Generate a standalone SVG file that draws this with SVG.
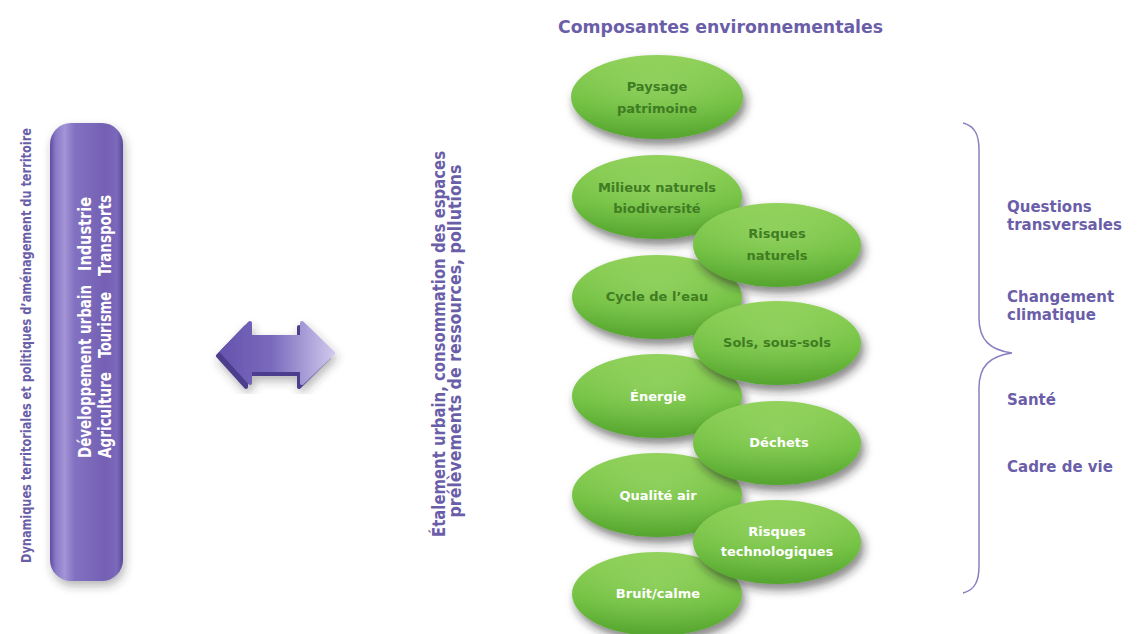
<svg xmlns="http://www.w3.org/2000/svg" width="1141" height="634" viewBox="0 0 1141 634">
<defs>
<linearGradient id="gGreen" x1="0" y1="0" x2="0" y2="1">
<stop offset="0" stop-color="#8ccf55"/>
<stop offset="0.55" stop-color="#70c041"/>
<stop offset="1" stop-color="#56a52f"/>
</linearGradient>
<radialGradient id="gHi" cx="0.5" cy="0.35" r="0.6">
<stop offset="0" stop-color="#a6dc74" stop-opacity="0.5"/>
<stop offset="1" stop-color="#a6dc74" stop-opacity="0"/>
</radialGradient>
<linearGradient id="gPill" x1="0" y1="0" x2="1" y2="0">
<stop offset="0" stop-color="#5f4ca2"/>
<stop offset="0.08" stop-color="#8a7bc8"/>
<stop offset="0.2" stop-color="#a294d6"/>
<stop offset="0.34" stop-color="#8271c0"/>
<stop offset="0.75" stop-color="#7460b4"/>
<stop offset="0.92" stop-color="#7b68ba"/>
<stop offset="1" stop-color="#5a479c"/>
</linearGradient>
<linearGradient id="gArrow" x1="0" y1="0" x2="1" y2="0">
<stop offset="0" stop-color="#6654ae"/>
<stop offset="0.45" stop-color="#7a6abd"/>
<stop offset="1" stop-color="#cfc7ec"/>
</linearGradient>
<filter id="shadow" x="-30%" y="-30%" width="160%" height="170%">
<feDropShadow dx="3" dy="6" stdDeviation="5" flood-color="#222" flood-opacity="0.55"/>
</filter>
<filter id="shadowSoft" x="-30%" y="-10%" width="160%" height="120%">
<feDropShadow dx="2" dy="5" stdDeviation="5" flood-color="#333" flood-opacity="0.35"/>
</filter>
<style>
.ell{fill:url(#gGreen);filter:url(#shadow)}
.hi{fill:url(#gHi)}
.lbl{font-family:"DejaVu Sans",sans-serif;font-weight:bold;font-size:13px;text-anchor:middle}
.dk{fill:#3f7c22}
.wh{fill:#ffffff}
.pur{fill:#6b5ea9}
.rt{font-family:"DejaVu Sans",sans-serif;font-weight:bold;font-size:15px;fill:#6b5ea9}
.cond{font-family:"Liberation Sans Narrow","DejaVu Sans Condensed","Liberation Sans",sans-serif;font-stretch:condensed}
</style>
</defs>
<rect width="1141" height="634" fill="#ffffff"/>

<g id="title">
<text x="558" y="33" font-family="DejaVu Sans,sans-serif" font-weight="bold" font-size="18" class="pur" textLength="325" lengthAdjust="spacingAndGlyphs">Composantes environnementales</text>
</g>

<g id="left-label">
<text class="cond pur" font-weight="bold" font-size="13.5" transform="translate(31,563) rotate(-90)" textLength="435" lengthAdjust="spacingAndGlyphs">Dynamiques territoriales et politiques d’aménagement du territoire</text>
</g>

<g id="pill">
<rect x="50" y="123" width="73" height="458" rx="21" ry="21" fill="url(#gPill)" filter="url(#shadowSoft)"/>
<g class="cond" font-weight="bold" font-size="17.5" fill="#ffffff">
<text transform="translate(91,458) rotate(-90)" textLength="173" lengthAdjust="spacingAndGlyphs">Développement urbain</text>
<text transform="translate(91,271) rotate(-90)" textLength="74" lengthAdjust="spacingAndGlyphs">Industrie</text>
<text transform="translate(111,458) rotate(-90)" textLength="86" lengthAdjust="spacingAndGlyphs">Agriculture</text>
<text transform="translate(111,358) rotate(-90)" textLength="66" lengthAdjust="spacingAndGlyphs">Tourisme</text>
<text transform="translate(111,276) rotate(-90)" textLength="81" lengthAdjust="spacingAndGlyphs">Transports</text>
</g>
</g>

<g id="middle-label" class="cond pur" font-weight="bold" font-size="18" text-anchor="middle">
<text transform="translate(445,344) rotate(-90)" textLength="386" lengthAdjust="spacingAndGlyphs">Étalement urbain, consommation des espaces</text>
<text transform="translate(461,341) rotate(-90)" textLength="353" lengthAdjust="spacingAndGlyphs">prélèvements de ressources, pollutions</text>
</g>

<g id="connectors">
<g id="double-arrow" filter="url(#shadowSoft)">
<polygon points="218,356 246,327 246,341 299,341 299,327 329,357 299,387 299,374 246,374 246,387" fill="#4d3d8d" stroke="#4d3d8d" stroke-width="4" stroke-linejoin="round"/>
<polygon points="222,352 250,323 250,337 302,337 302,323 333,353 302,383 302,370 250,370 250,383" fill="url(#gArrow)" stroke="url(#gArrow)" stroke-width="4" stroke-linejoin="round"/>
</g>
<path id="brace" d="M963,123 C975,126 979,135 979,150 L979,318 C979,340 990,350 1012,353 C990,356 979,366 979,388 L979,566 C979,581 975,590 963,593" fill="none" stroke="#8a80c0" stroke-width="1.5"/>
</g>

<g id="n-paysage"><ellipse class="ell" cx="657" cy="97" rx="86" ry="42"/><ellipse class="hi" cx="657" cy="97" rx="86" ry="42"/>
<text class="lbl dk" x="657" y="91">Paysage</text><text class="lbl dk" x="657" y="113">patrimoine</text></g>
<g id="n-milieux"><ellipse class="ell" cx="657" cy="197" rx="85" ry="42"/><ellipse class="hi" cx="657" cy="197" rx="85" ry="42"/>
<text class="lbl dk" x="657" y="192">Milieux naturels</text><text class="lbl dk" x="657" y="213">biodiversité</text></g>
<g id="n-cycle"><ellipse class="ell" cx="657" cy="297" rx="85" ry="42"/><ellipse class="hi" cx="657" cy="297" rx="85" ry="42"/>
<text class="lbl dk" x="657" y="301">Cycle de l’eau</text></g>
<g id="n-energie"><ellipse class="ell" cx="657" cy="396" rx="85" ry="42"/><ellipse class="hi" cx="657" cy="396" rx="85" ry="42"/>
<text class="lbl wh" x="658" y="401">Énergie</text></g>
<g id="n-air"><ellipse class="ell" cx="657" cy="495" rx="85" ry="42"/><ellipse class="hi" cx="657" cy="495" rx="85" ry="42"/>
<text class="lbl wh" x="658" y="500">Qualité air</text></g>
<g id="n-bruit"><ellipse class="ell" cx="657" cy="594" rx="85" ry="42"/><ellipse class="hi" cx="657" cy="594" rx="85" ry="42"/>
<text class="lbl wh" x="658" y="598">Bruit/calme</text></g>

<g id="n-risques-nat"><ellipse class="ell" cx="777" cy="245" rx="84" ry="42"/><ellipse class="hi" cx="777" cy="245" rx="84" ry="42"/>
<text class="lbl dk" x="777" y="238">Risques</text><text class="lbl dk" x="777" y="260">naturels</text></g>
<g id="n-sols"><ellipse class="ell" cx="777" cy="343" rx="84" ry="42"/><ellipse class="hi" cx="777" cy="343" rx="84" ry="42"/>
<text class="lbl dk" x="777" y="347">Sols, sous-sols</text></g>
<g id="n-dechets"><ellipse class="ell" cx="777" cy="443" rx="84" ry="42"/><ellipse class="hi" cx="777" cy="443" rx="84" ry="42"/>
<text class="lbl wh" x="779" y="447">Déchets</text></g>
<g id="n-risques-tech"><ellipse class="ell" cx="777" cy="542" rx="84" ry="42"/><ellipse class="hi" cx="777" cy="542" rx="84" ry="42"/>
<text class="lbl wh" x="777" y="536">Risques</text><text class="lbl wh" x="777" y="556">technologiques</text></g>

<g id="right-labels">
<text class="rt" x="1007" y="212">Questions</text>
<text class="rt" x="1007" y="230">transversales</text>
<text class="rt" x="1007" y="302">Changement</text>
<text class="rt" x="1007" y="320">climatique</text>
<text class="rt" x="1007" y="405">Santé</text>
<text class="rt" x="1007" y="472">Cadre de vie</text>
</g>
</svg>
